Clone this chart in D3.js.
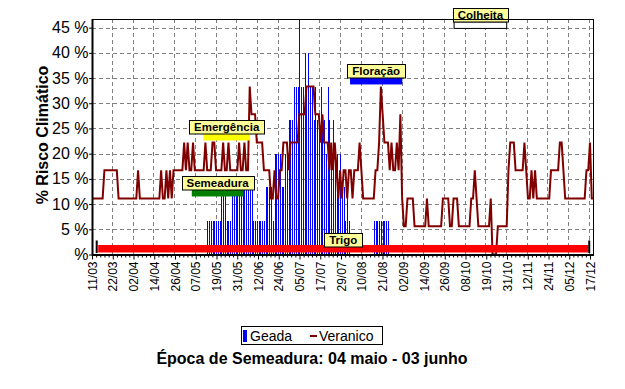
<!DOCTYPE html>
<html>
<head>
<meta charset="utf-8">
<script src="https://cdn.jsdelivr.net/npm/d3@7"></script>
<style>
  body { margin: 0; background: #fff; }
  svg { display: block; font-family: "Liberation Sans", Arial, sans-serif; }
</style>
</head>
<body>
<svg id="chart" width="625" height="389"></svg>
<script>
// x axis labels (24 equal divisions from 11/03 to 17/12)
const tickLabels = ['11/03','22/03','02/04','14/04','26/04','07/05','19/05','31/05','12/06','24/06',
  '05/07','17/07','29/07','10/08','21/08','02/09','14/09','26/09','08/10','19/10',
  '31/10','12/11','24/11','05/12','17/12'];
const lastDay = 281; // 17/12 counted in days from 11/03

// Veranico risk (%), one value per day starting 11/03
const veranico = [
  11.1,11.1,11.1,11.1,11.1,11.1,11.1, 16.7,16.7,16.7,16.7,16.7,16.7,16.7,16.7,
  11.1,11.1,11.1,11.1,11.1,11.1,11.1,11.1,11.1,11.1,11.1, 16.7,
  11.1,11.1,11.1,11.1,11.1,11.1,11.1,11.1,11.1,11.1,11.1,11.1,
  16.7,11.1,11.1,16.7,11.1,16.7,11.1, 16.7,16.7,16.7,16.7,16.7,16.7,
  22.2,16.7,22.2,16.7,16.7,22.2, 16.7,16.7,16.7,16.7,16.7,16.7,
  22.2,16.7,16.7,16.7,22.2,22.2, 16.7,16.7,16.7,16.7, 22.2,16.7,16.7,22.2,
  16.7,16.7,16.7,16.7,16.7, 22.2,16.7,16.7,22.2,16.7,16.7,
  33.3,27.8,27.8,27.8, 22.2,22.2,22.2,22.2, 16.7,16.7,16.7,16.7,
  11.1,11.1,16.7,11.1,11.1,16.7,16.7, 22.2,22.2,22.2,16.7,22.2,22.2,22.2,22.2,22.2,
  27.8,27.8,27.8,27.8, 33.3,33.3,33.3,33.3,33.3, 27.8,27.8,27.8,22.2,27.8,
  22.2,22.2,22.2,16.7,22.2,16.7,22.2, 16.7,11.1,16.7,11.1,16.7,16.7,11.1,16.7,16.7,11.1,
  16.7,16.7,16.7,22.2,16.7, 11.1,11.1,11.1,11.1,11.1,11.1,11.1,
  16.7,16.7,22.2,33.3,27.8,22.2,22.2,22.2,16.7,22.2,16.7,16.7,22.2,16.7,27.8,
  11.1,5.6,5.6,11.1,11.1,11.1,11.1, 5.6,5.6,5.6,5.6,5.6,5.6,5.6, 11.1,
  5.6,5.6,5.6,5.6,5.6,5.6,5.6,5.6, 11.1,11.1,11.1,11.1, 5.6,5.6, 11.1,11.1,11.1,
  5.6,5.6,5.6,5.6,5.6,5.6,5.6, 11.1,11.1,16.7,11.1, 5.6,5.6,5.6,5.6,5.6,5.6,5.6,
  11.1,0,0,0, 5.6,5.6,5.6,5.6,5.6,5.6,
  16.7,22.2,22.2,22.2, 16.7,16.7,16.7,16.7,16.7, 22.2,16.7,11.1,11.1,16.7,11.1,16.7,
  11.1,11.1,11.1,11.1,11.1,11.1,11.1,11.1, 16.7,16.7,16.7,16.7,16.7, 22.2,22.2,16.7,
  11.1,11.1,11.1,11.1,11.1,11.1,11.1,11.1,11.1,11.1,11.1,11.1, 16.7,16.7,22.2,11.1,11.1
];

// Geada risk (%), one value per day starting at day geadaStart
const geadaStart = 65;
const geada = [
  6.67,6.67,6.67,6.67,6.67,6.67,6.67,6.67, 13.3,13.3,13.3, 6.67,6.67,6.67,
  13.3,13.3,13.3,13.3,13.3,13.3,13.3,13.3,13.3,13.3,13.3,13.3,
  6.67,6.67,6.67,6.67,6.67,6.67,6.67, 13.3,13.3,13.3,13.3, 6.67,
  20,20,20,20, 13.3,13.3, 20,20, 26.7,26.7,26.7, 33.3,33.3,33.3, 46.67,
  33.3,33.3,40,33.3,40,33.3,33.3,26.7,33.3,26.7,26.7,33.3,26.7,26.7,
  20,33.3,26.7,20,26.7,20,20,13.3,20,13.3,13.3,6.67,13.3,6.67,
  0,0,0,0,0,0,0,0,0,0,0,0,0,
  6.67,6.67,6.67,6.67,6.67,6.67,6.67,6.67,6.67
];

// crop phases: days from 11/03, row on the chart
const phaseNames = ['Trigo', 'Semeadura', 'Emergência', 'Floração', 'Colheita'];
const phaseStart = [3.5, 56.3, 62.8, 145.6, 204.3];
const phaseEnd   = [280, 85.4, 89.2, 175.1, 234];
const phaseRow   = [0, 1, 2, 3, 4];
const phaseColor = ['#ff0000', '#008000', '#ffff00', '#0000ff', '#ffffff'];

const yTicks = [0, 5, 10, 15, 20, 25, 30, 35, 40, 45];

const svg = d3.select('#chart');
const plot = { left: 92, right: 594, top: 19, bottom: 254.5 };

const x = d3.scaleLinear().domain([0, lastDay]).range([92, 590]);
const y = d3.scaleLinear().domain([0, 46.67]).range([plot.bottom, 19.2]);

const tickVals = tickLabels.map((d, i) => i * lastDay / (tickLabels.length - 1));

// grid
const grid = svg.append('g')
  .attr('stroke', '#808080')
  .attr('stroke-dasharray', '4,3')
  .attr('shape-rendering', 'crispEdges');
grid.selectAll('.hg').data(yTicks.slice(1)).enter().append('line')
  .attr('x1', plot.left).attr('x2', plot.right)
  .attr('y1', d => Math.round(y(d)) + 0.5).attr('y2', d => Math.round(y(d)) + 0.5);
grid.selectAll('.vg').data(tickVals.slice(1)).enter().append('line')
  .attr('x1', d => Math.round(x(d)) - 0.5).attr('x2', d => Math.round(x(d)) - 0.5)
  .attr('y1', plot.top).attr('y2', plot.bottom);

// geada bars
svg.append('g')
  .attr('shape-rendering', 'crispEdges')
  .selectAll('rect').data(geada).enter().append('rect')
  .attr('x', (d, i) => Math.round(x(geadaStart + i)))
  .attr('width', 1)
  .attr('y', d => y(d))
  .attr('height', d => y(0) - y(d))
  .attr('fill', '#0000ff');

// veranico line
const line = d3.line()
  .x((d, i) => x(i))
  .y(d => y(d));
svg.append('path')
  .datum(veranico)
  .attr('d', line)
  .attr('fill', 'none')
  .attr('stroke', '#800000')
  .attr('stroke-width', 2);

// phases
const phases = svg.append('g');
phaseNames.forEach((name, i) => {
  const row = phaseRow[i];
  const barBottom = y(row * 11.11 + 0.4);
  const barH = row === 0 ? 7.5 : 6.5;
  const x0 = x(phaseStart[i]), x1 = x(phaseEnd[i]);
  phases.append('rect')
    .attr('x', x0).attr('y', barBottom - barH)
    .attr('width', x1 - x0).attr('height', barH)
    .attr('fill', phaseColor[i])
    .attr('stroke', row === 4 ? '#000' : 'none')
    .attr('stroke-width', 1);
  if (row === 0) {
    phases.append('rect').attr('x', x0 - 2.5).attr('y', barBottom - 12).attr('width', 2).attr('height', 12.5).attr('fill', '#000');
    phases.append('rect').attr('x', x1).attr('y', barBottom - 12).attr('width', 2).attr('height', 12.5).attr('fill', '#000');
  }
  const cx = (x0 + x1) / 2;
  const labelBottom = row === 0 ? barBottom - barH + 2 : barBottom - barH;
  const lg = phases.append('g');
  const box = lg.append('rect')
    .attr('fill', '#ffff99')
    .attr('stroke', '#000')
    .attr('stroke-width', 1);
  const t = lg.append('text')
    .attr('x', cx).attr('y', labelBottom - 3)
    .attr('text-anchor', 'middle')
    .attr('font-size', '11.5px')
    .attr('font-weight', 'bold')
    .text(name);
  const w = t.node().getComputedTextLength() + 10;
  box.attr('x', Math.round(cx - w / 2) + 0.5).attr('y', Math.round(labelBottom - 14) + 0.5)
    .attr('width', Math.round(w)).attr('height', 13.5);
});

// frame
svg.append('rect')
  .attr('x', plot.left + 0.5).attr('y', plot.top + 0.5)
  .attr('width', plot.right - plot.left - 1).attr('height', plot.bottom - plot.top - 0.5)
  .attr('fill', 'none').attr('stroke', '#000');
svg.append('line').attr('x1', plot.left + 0.5).attr('x2', plot.left + 0.5)
  .attr('y1', plot.top).attr('y2', plot.bottom + 1).attr('stroke', '#000').attr('stroke-width', 2);
svg.append('line').attr('x1', plot.left).attr('x2', plot.right)
  .attr('y1', plot.bottom + 0.5).attr('y2', plot.bottom + 0.5).attr('stroke', '#000').attr('stroke-width', 2);

// x axis
const minorVals = d3.range(0, tickVals.length - 1).flatMap(k =>
  [1, 2, 3, 4].map(j => (k + j / 5) * lastDay / (tickLabels.length - 1)));
svg.append('g')
  .attr('transform', `translate(0,${plot.bottom + 1})`)
  .call(d3.axisBottom(x).tickValues(minorVals).tickSize(2).tickFormat(''))
  .call(g => g.select('.domain').remove());
const xAxis = svg.append('g')
  .attr('transform', `translate(0,${plot.bottom + 1})`)
  .call(d3.axisBottom(x).tickValues(tickVals).tickSize(4).tickFormat((d, i) => tickLabels[i]))
  .call(g => g.select('.domain').remove());
xAxis.selectAll('text')
  .attr('transform', 'rotate(-90)')
  .attr('text-anchor', 'end')
  .attr('x', -6).attr('y', 4).attr('dy', 0)
  .attr('font-size', '12px')
  .attr('font-family', '"Liberation Sans", Arial, sans-serif')
  .attr('fill', '#000');

// y axis
const yAxis = svg.append('g')
  .attr('transform', `translate(${plot.left},0)`)
  .call(d3.axisLeft(y).tickValues(yTicks).tickSize(3).tickPadding(0.5)
    .tickFormat(d => d === 0 ? '%' : d + ' %'))
  .call(g => g.select('.domain').remove());
yAxis.selectAll('text')
  .attr('font-size', '16px')
  .attr('font-family', '"Liberation Sans", Arial, sans-serif')
  .attr('fill', '#000');

// axis title
svg.append('text')
  .attr('transform', 'translate(47.5,135) rotate(-90)')
  .attr('text-anchor', 'middle')
  .attr('font-size', '16px')
  .attr('font-weight', 'bold')
  .text('% Risco Climático');

// legend
const legend = svg.append('g');
legend.append('rect')
  .attr('x', 241.5).attr('y', 326.5).attr('width', 141).attr('height', 18)
  .attr('fill', '#fff').attr('stroke', '#000');
legend.append('rect')
  .attr('x', 243).attr('y', 330).attr('width', 4).attr('height', 12)
  .attr('fill', '#0000ff');
legend.append('text').attr('x', 250).attr('y', 340.5).attr('font-size', '14px').text('Geada');
legend.append('line')
  .attr('x1', 310).attr('x2', 317).attr('y1', 336).attr('y2', 336)
  .attr('stroke', '#800000').attr('stroke-width', 2);
legend.append('text').attr('x', 319).attr('y', 340.5).attr('font-size', '14px').text('Veranico');

// title
svg.append('text')
  .attr('x', 312).attr('y', 364)
  .attr('text-anchor', 'middle')
  .attr('font-size', '16px')
  .attr('font-weight', 'bold')
  .text('Época de Semeadura: 04 maio - 03 junho');
</script>
</body>
</html>
